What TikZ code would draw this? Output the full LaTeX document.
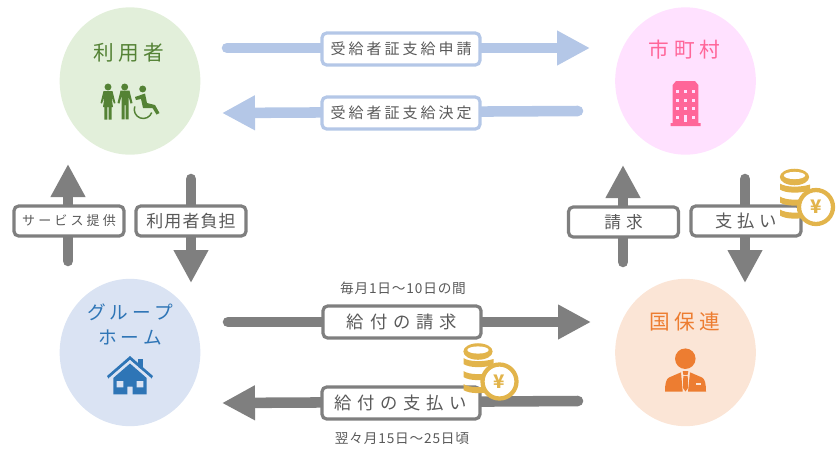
\documentclass[tikz,border=0pt]{standalone}
\usepackage{fontspec}
\setmainfont{Noto Sans CJK JP}
\usetikzlibrary{arrows.meta, shapes.geometric}
\definecolor{usergreen}{HTML}{548235}
\definecolor{usergreenbg}{HTML}{E2EFDA}
\definecolor{citypink}{HTML}{FF6699}
\definecolor{citypinkbg}{HTML}{FFE1FF}
\definecolor{homeblue}{HTML}{2E75B6}
\definecolor{homebluebg}{HTML}{DAE3F3}
\definecolor{kokuorange}{HTML}{ED7D31}
\definecolor{kokuorangebg}{HTML}{FBE5D6}
\definecolor{flowblue}{HTML}{B4C7E7}
\definecolor{flowgray}{HTML}{7F7F7F}
\definecolor{labeltext}{HTML}{595959}
\definecolor{coingold}{HTML}{E2B44B}
\newcommand{\jpsize}[3]{\fontsize{#1}{#2}\selectfont\addfontfeature{LetterSpace=#3}}
\tikzset{
  actor/.style={ellipse, minimum width=105.5pt, minimum height=110.5pt, inner sep=0pt},
  actorname/.style={font=\jpsize{15.5}{18.75}{22}, align=center},
  flow/.style={line width=7.9pt, line cap=round, -{Triangle[length=24.75pt,width=24.5pt]}},
  widebox/.style={minimum width=118.5pt, minimum height=24pt},
  smallbox/.style={minimum width=82.5pt, minimum height=22.5pt},
  tagbox/.style={draw, fill=white, rounded corners=3.5pt, line width=2.4pt, inner sep=0pt, text=labeltext},
  capt/.style={font=\jpsize{10.25}{12}{6}, text=labeltext, inner sep=0pt}
}
\begin{document}
\begin{tikzpicture}[x=0.75pt, y=-0.75pt]
    \useasboundingbox (0,0) rectangle (838,455);
    % circles
    \foreach \n/\clr/\x/\y in {
      users/usergreenbg/130/81,
      city/citypinkbg/685.5/81,
      home/homebluebg/130/352.5,
      koku/kokuorangebg/685.5/352.5%
    }{
      \node[actor, fill=\clr] (\n) at (\x,\y) {};
    }
    \node[actorname, text=usergreen] (usersname) at (129,53) {利用者};
    \node[actorname, text=citypink] (cityname) at (684.5,50) {市町村};
    \node[actorname, text=kokuorange] (kokuname) at (685,321.5) {国保連};
    \node[actorname, text=homeblue, font=\jpsize{14}{18.75}{22}] (homename) at (130,324.5) {グループ\\ホーム};

    % arrows
    \foreach \n/\clr/\ax/\ay/\bx/\by in {
      req/flowblue/227/48/590/48,
      dec/flowblue/578/111/222/113,
      serv/flowgray/68/261/68/164,
      pay/flowgray/191/179/191/283,
      bill/flowgray/623/262/623/165,
      fee/flowgray/745/179/745/283,
      claim/flowgray/228/322/591/322,
      paid/flowgray/578/401/222/403%
    }{
      \coordinate (\n a) at (\ax,\ay);
      \coordinate (\n b) at (\bx,\by);
      \draw[flow, \clr] (\n a) -- (\n b);
    }

    % label boxes
    \foreach \n/\clr/\sz/\x/\y/\fnt/\lbl in {
      reqbox/flowblue/widebox/401/49/{\jpsize{11.25}{14}{20}}/{受給者証支給申請},
      decbox/flowblue/widebox/401/113/{\jpsize{11.25}{14}{20}}/{受給者証支給決定},
      servbox/flowgray/smallbox/69/221/{\jpsize{9.75}{12}{24}}/{サービス提供},
      paybox/flowgray/smallbox/191/221/{\jpsize{12.75}{14}{6}}/{利用者負担},
      billbox/flowgray/smallbox/623.5/222/{\jpsize{12.5}{14}{30}}/{請求},
      feebox/flowgray/smallbox/746/221/{\jpsize{13}{14}{28}}/{支払い},
      claimbox/flowgray/widebox/402/322/{\jpsize{13}{14}{34}}/{給付の請求},
      paidbox/flowgray/widebox/401/403/{\jpsize{13}{14}{33}}/{給付の支払い}%
    }{
      \node[tagbox, \sz, draw=\clr, font=\fnt] (\n) at (\x,\y) {\lbl};
    }
    \node[capt] (claimdate) at (403,288) {毎月1日〜10日の間};
    \node[capt] (paiddate) at (402,439) {翌々月15日〜25日頃};

    % people
    \fill[usergreen] (108,87) circle (2.6pt) (124.7,87) circle (2.6pt) (142.7,89) circle (2.6pt);
    \fill[usergreen] (103.5,91) -- (112.5,91) -- (115.5,103) -- (114,103.5) -- (111.5,97) -- (113,107)
      -- (111.7,107) -- (111.7,119.5) -- (108.7,119.5) -- (108.7,107) -- (107.3,107) -- (107.3,119.5)
      -- (104.3,119.5) -- (104.3,107) -- (103,107) -- (104.5,97) -- (102,103.5) -- (100.5,103) -- cycle;
    \fill[usergreen] (120.5,90.7) -- (129.5,90.7) -- (132.5,103) -- (130.5,103.5) -- (128.5,96) -- (128.5,119.3)
      -- (125.5,119.3) -- (125.5,105) -- (124.5,105) -- (124.5,119.3) -- (121.5,119.3) -- (121.5,96)
      -- (119.5,103.5) -- (117.5,103) -- cycle;
    \fill[usergreen] (135,97) -- (145,93.5) -- (147,103) -- (155,105) -- (159.5,113) -- (156.5,114.5)
      -- (152.5,108) -- (143,108) -- (141,99) -- (136,100) -- cycle;
    \draw[usergreen, line width=1.1pt] (134.8,106.4) arc[start angle=160, end angle=340, radius=6.75pt];

    % building
    \fill[citypink] (672.7,123) -- (672.7,85) -- (676,81) -- (695,81) -- (698.3,85) -- (698.3,123)
      -- (700.7,123) -- (700.7,126) -- (670.7,126) -- (670.7,123) -- cycle;
    \foreach \x in {677.7,685.7,693.3}
      \foreach \y in {91.7,100,108.3}
        \fill[citypinkbg] (\x-1.5,\y-1.5) rectangle (\x+1.5,\y+1.5);
    \foreach \x in {677.7,693.3}
      \fill[citypinkbg] (\x-1.5,115.8) rectangle (\x+1.5,118.8);
    \fill[citypinkbg] (684,115) rectangle (687.3,122.3);

    % house
    \fill[homeblue] (138.3,359) rectangle (143.3,369);
    \fill[homeblue] (107,376) -- (130,356) -- (153,376) -- (151.5,378.5) -- (130,360) -- (108.5,378.5) -- cycle;
    \fill[homebluebg] (130,360) -- (151.5,378.5) -- (146.7,378) -- (130,363.5) -- (113.3,378) -- (108.5,378.5) -- cycle;
    \fill[homeblue] (113.3,378) -- (130,363.5) -- (146.7,378) -- (146.7,394.3) -- (132.7,394.3) -- (132.7,386.5)
      -- (127.3,386.5) -- (127.3,394.3) -- (113.3,394.3) -- cycle;
    \fill[homebluebg] (116.7,381) rectangle (123.3,387.3) (136.7,381) rectangle (143.3,387.3);

    % staff
    \fill[kokuorange] (685.3,358.7) circle (7.7pt);
    \fill[kokuorange] (665,391.7) .. controls (665,384) and (666,379) .. (669,377.5) -- (681,372.3) -- (682.7,391.7) -- cycle;
    \fill[kokuorange] (706,391.7) .. controls (706,384) and (705,379) .. (702,377.5) -- (690,372.3) -- (688,391.7) -- cycle;
    \fill[kokuorange] (682.7,371) -- (688.3,371) -- (687.6,375) -- (683.4,375) -- cycle;
    \fill[kokuorange] (683.3,376) -- (687.7,376) -- (688,388) -- (685.5,391.5) -- (683,388) -- cycle;
    \fill[kokuorangebg] (695.7,383.3) rectangle (700.7,384.7);

    % coins
    \foreach \n/\x/\y in {feeyen/816/207, paidyen/499.5/381.5}{
      \begin{scope}[shift={(\x,\y)}]
        \fill[coingold] (-21.5,-30) ellipse [x radius=11pt, y radius=6.2pt];
        \fill[white] (-21.5,-31.5) ellipse [x radius=8pt, y radius=2.7pt];
        \foreach \d in {-18.5,-5.5,7.5}
          \fill[coingold] (-36,\d-5) .. controls (-30,\d-1) and (-16,\d-1) .. (-6,\d-4) -- (-6,\d+2)
            .. controls (-16,\d+5) and (-30,\d+5) .. (-36,\d+1) -- cycle;
        \node[circle, draw=coingold, fill=white, line width=3.2pt, minimum size=25.5pt, inner sep=0pt,
              text=coingold, font=\bfseries\fontsize{14}{16}\selectfont] (\n) at (0,0) {¥};
      \end{scope}
    }
\end{tikzpicture}
\end{document}
